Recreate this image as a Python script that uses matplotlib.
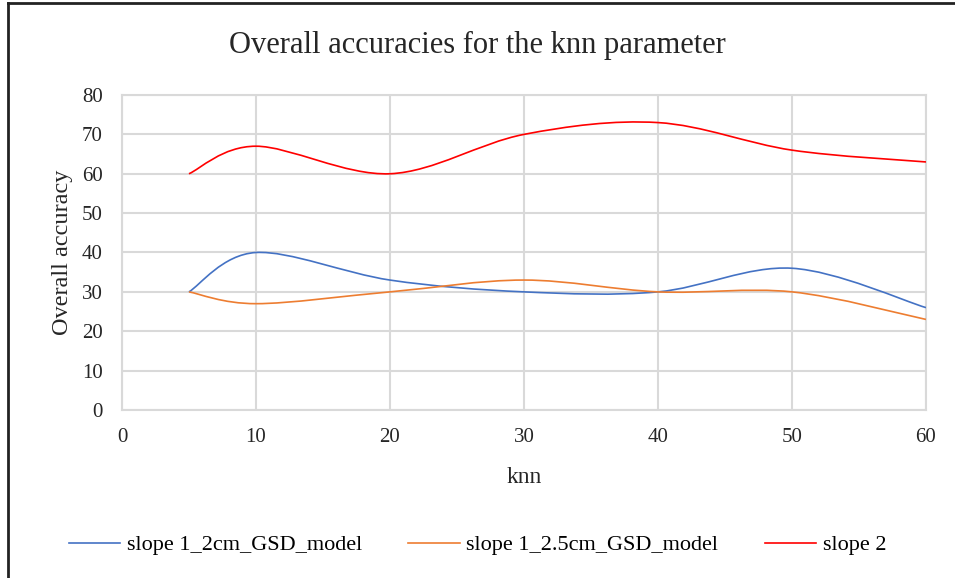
import matplotlib
matplotlib.use("Agg")
import numpy as np
import matplotlib.pyplot as plt
from matplotlib.path import Path
from matplotlib.patches import PathPatch
from matplotlib.lines import Line2D

# data
knn = [5, 10, 20, 30, 40, 50, 60]
slope1_2cm = [30, 40, 33, 30, 30, 36, 26]
slope1_25cm = [30, 27, 30, 33, 30, 30, 23]
slope2 = [60, 67, 60, 70, 73, 66, 63]

names = ["slope 1_2cm_GSD_model", "slope 1_2.5cm_GSD_model", "slope 2"]
colors = ["#4472C4", "#ED7D31", "#FF0000"]

plt.rcParams['font.family'] = ['Liberation Serif', 'DejaVu Serif']


def smooth_path(x, y):
    # excel-like smoothed line: cubic bezier, catmull-rom style control points
    p = np.column_stack([x, y]).astype(float)
    n = len(p)
    verts = [p[0]]
    codes = [Path.MOVETO]
    for i in range(n - 1):
        p0 = p[i - 1] if i > 0 else p[i]
        p1 = p[i]
        p2 = p[i + 1]
        p3 = p[i + 2] if i + 2 < n else p[i + 1]
        c1 = p1 + (p2 - p0) / 6.0
        c2 = p2 - (p3 - p1) / 6.0
        verts += [c1, c2, p2]
        codes += [Path.CURVE4] * 3
    return Path(verts, codes)


fig = plt.figure(figsize=(9.55, 5.78), dpi=100)
ax = fig.add_axes([0.1277, 0.2907, 0.8419, 0.5449])

for ys, c in zip([slope1_2cm, slope1_25cm, slope2], colors):
    ax.add_patch(PathPatch(smooth_path(knn, ys), facecolor='none',
                           edgecolor=c, lw=1.2, zorder=3))

ax.set_xlim(0, 60)
ax.set_ylim(0, 80)
ax.set_xticks(range(0, 61, 10))
ax.set_yticks(range(0, 81, 10))
ax.grid(True, color='#d9d9d9', lw=1.5)
ax.set_axisbelow(True)
for s in ax.spines.values():
    s.set_color('#d9d9d9')
    s.set_linewidth(1.5)
ax.tick_params(length=0, labelsize=15, colors='#262626')
ax.tick_params(axis='y', pad=14)
ax.tick_params(axis='x', pad=13)

ax.set_xlabel('knn', fontsize=17, color='#262626', va='center')
ax.xaxis.set_label_coords(0.5, -0.213)
ax.set_ylabel('Overall accuracy', fontsize=17.5, color='#262626', va='center')
ax.yaxis.set_label_coords(-0.074, 0.5)
fig.text(0.5, 0.922, 'Overall accuracies for the knn parameter', ha='center',
         va='center', fontsize=22, color='#262626')

handles = [Line2D([], [], color=c, lw=1.2) for c in colors]
fig.legend(handles, names, loc='center', bbox_to_anchor=(0.5, 0.057), ncol=3,
           frameon=False, fontsize=16, handlelength=2.3, columnspacing=2.1,
           handletextpad=0.3)

# outer chart border (left and top visible)
fig.add_artist(Line2D([0.008, 0.008], [0, 0.995], color='#222222', lw=2,
                      transform=fig.transFigure))
fig.add_artist(Line2D([0.008, 1.0], [0.995, 0.995], color='#222222', lw=2,
                      transform=fig.transFigure))

fig.savefig('out.png', dpi=100)
